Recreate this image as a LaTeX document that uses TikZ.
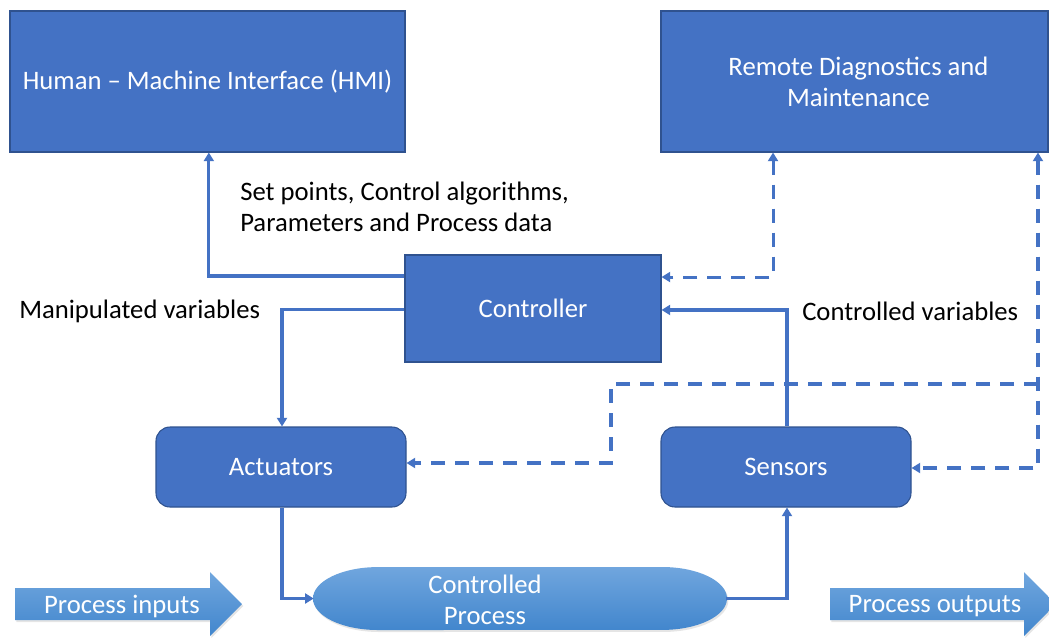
\documentclass[tikz,border=0pt]{standalone}
\usepackage{fontspec}
\setmainfont{Carlito}
\usetikzlibrary{arrows.meta,shadows}
\definecolor{boxblue}{RGB}{68,114,196}
\definecolor{boxedge}{RGB}{47,82,143}
\definecolor{gradtop}{RGB}{112,166,222}
\definecolor{gradbot}{RGB}{66,134,205}
\tikzset{
  txt/.style={font=\fontsize{20}{23.5}\selectfont, inner sep=0pt},
  block/.style={txt, draw=boxedge, line width=0.8pt, fill=boxblue, text=white, align=center},
  roundblock/.style={block, rounded corners=10.5pt},
  conn/.style={draw=boxblue, line width=2.3pt, -{Triangle[length=6.5pt,width=7.5pt]}},
  dconn/.style={conn, dash pattern=on 10.5pt off 7.5pt},
  dconnboth/.style={dconn, {Triangle[length=6.5pt,width=7.5pt]}-{Triangle[length=6.5pt,width=7.5pt]}},
  flowfill/.style={top color=gradtop, bottom color=gradbot, draw=none,
    drop shadow={opacity=0.2, shadow xshift=1pt, shadow yshift=-1.5pt}},
  label/.style={txt, text=black, align=left}
}
\begin{document}
\begin{tikzpicture}[x=0.75pt,y=-0.75pt]
\clip (0,0) rectangle (1049,637);
\fill[white] (0,0) rectangle (1049,637);

% upper blocks
\node[block, minimum width=296.25pt, minimum height=105.75pt] (hmi) at (207.5,81.5)
  {\raisebox{-1.5pt}{Human -- Machine Interface (HMI)}};
\node[block, minimum width=290.25pt, minimum height=105.75pt] (rdm) at (854.5,81.5)
  {\hspace*{6pt}Remote Diagnostics and\\\hspace*{6pt}Maintenance};
\node[block, minimum width=192pt, minimum height=80.25pt] (ctrl) at (533,308.5)
  {\raisebox{-1.5pt}{Controller}};

% field devices
\node[roundblock, minimum width=187.5pt, minimum height=60pt] (act) at (281,467) {Actuators};
\node[roundblock, minimum width=187.5pt, minimum height=60pt] (sen) at (786,467) {Sensors};

% controlled process (flat top, elliptical ends)
\path[flowfill] (378,567) -- (662,567)
  arc[start angle=90, end angle=-90, x radius=48.75pt, y radius=23.6pt]
  -- (378,630)
  arc[start angle=270, end angle=90, x radius=48.75pt, y radius=23.6pt] -- cycle;
\node[minimum width=309pt, minimum height=47.25pt, inner sep=0pt] (proc) at (520,598.5) {};
\node[txt, text=white, align=center] (proctxt) at (485,599.5) {Controlled\\Process};

% process input / output arrows
\path[flowfill] (15,588) -- (210,588) -- (210,572) -- (242,604) -- (210,636)
  -- (210,620) -- (15,620) -- cycle;
\node[txt, text=white] (pin) at (122,606) {Process inputs};
\path[flowfill] (830,588) -- (1024,588) -- (1024,572) -- (1056,604) -- (1024,636)
  -- (1024,620) -- (830,620) -- cycle;
\node[txt, text=white] (pout) at (935,606) {Process outputs};

% labels
\node[label, anchor=west] (setpts) at (240,206.5)
  {Set points, Control algorithms,\\Parameters and Process data};
\node[label, anchor=west] (manip) at (19,311.5) {Manipulated variables};
\node[label, anchor=west] (cvars) at (802,311) {Controlled variables};

% solid signal paths
\draw[conn] ([yshift=24.4pt]ctrl.west) -| ([xshift=1pt]hmi.south);
\draw[conn] ([yshift=-0.6pt]ctrl.west) -| ([xshift=0.75pt]act.north);
\draw[conn] ([xshift=0.75pt]act.south) |- (proc.west);
\draw[conn] (proc.east) -| ([xshift=0.75pt]sen.south);
\draw[conn] ([xshift=0.75pt]sen.north) |- ([yshift=-1.1pt]ctrl.east);

% dashed diagnostics paths
\draw[dconnboth] ([xshift=-61.1pt]rdm.south) |- ([yshift=23.6pt]ctrl.east);
\draw[dconnboth] ([xshift=137.6pt]rdm.south) |- ([yshift=-0.75pt]sen.east);
\coordinate (br) at (1038,384);
\coordinate (bend) at (611,384);
\draw[dconn] (br) -- (bend) |- ([yshift=3pt]act.east);
\end{tikzpicture}
\end{document}
